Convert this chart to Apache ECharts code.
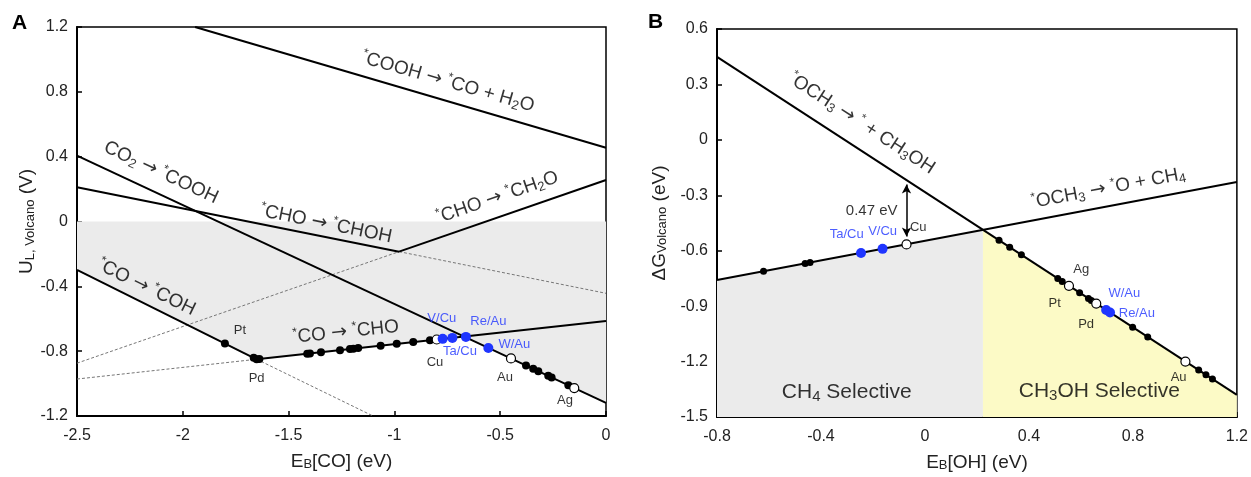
<!DOCTYPE html>
<html><head><meta charset="utf-8">
<script src="https://cdn.jsdelivr.net/npm/echarts@6/dist/echarts.min.js"></script>
<style>html,body{margin:0;padding:0;background:#fff}#c{width:1251px;height:477px}</style>
</head><body><div id="c"></div>
<script>
// ---------- Panel A data (E_B[CO] vs U_L) ----------
const aXTicks = [-2.5, 0];        // axis range
const aYTicks = [-1.2, 1.2];
const aCoohToCo      = [[-1.942, 1.2], [0, 0.455]];
const aCo2ToCooh     = [[-2.5, 0.406], [0, -1.119]];
const aChoToChoh     = [[-2.5, 0.211], [-0.978, -0.186]];
const aChoToChohDash = [[-0.978, -0.186], [0, -0.443]];
const aChoToCh2o     = [[-0.978, -0.186], [0, 0.256]];
const aChoToCh2oDash = [[-2.5, -0.874], [-0.978, -0.186]];
const aCoToCoh       = [[-2.5, -0.299], [-1.651, -0.850]];
const aCoToCohDash   = [[-1.651, -0.850], [-1.101, -1.2]];
const aCoToCho       = [[-1.651, -0.850], [0, -0.614]];
const aCoToChoDash   = [[-2.5, -0.972], [-1.651, -0.850]];
const aVolcano       = [[-2.5, -0.299], [-1.651, -0.850], [-0.671, -0.710], [0, -1.119]];
const aBlack = [[-1.801,-0.753],[-1.665,-0.841],[-1.651,-0.850],[-1.638,-0.848],[-1.412,-0.816],[-1.399,-0.814],[-1.347,-0.807],[-1.257,-0.794],[-1.210,-0.787],[-1.194,-0.785],[-1.171,-0.781],[-1.065,-0.766],[-0.989,-0.755],[-0.911,-0.744],[-0.832,-0.733],[-0.378,-0.888],[-0.344,-0.909],[-0.320,-0.924],[-0.273,-0.952],[-0.257,-0.962],[-0.178,-1.010]];
const aOpen  = [[-0.800,-0.728],[-0.449,-0.845],[-0.150,-1.028]];
const aBlue  = [[-0.772,-0.724],[-0.726,-0.718],[-0.662,-0.712],[-0.556,-0.780]];
const aCurveText = ['{s|*}COOH {a|→} {s|*}CO + H{d|2}O', 'CO{d|2} {a|→} {s|*}COOH', '{s|*}CHO {a|→} {s|*}CHOH', '{s|*}CHO {a|→} {s|*}CH{d|2}O', '{s|*}CO {a|→} {s|*}COH', '{s|*}CO {a|→} {s|*}CHO'];
const aCurvePos  = [[-0.747, 0.861], [-2.103, 0.302], [-1.323, -0.015], [-0.513, 0.148], [-2.171, -0.407], [-1.229, -0.682]];
const aCurveRot  = [-16, -25, -11.5, 19, -26, 6];
const aPtText = ['Pt', 'Pd', 'Cu', 'V/Cu', 'Ta/Cu', 'Re/Au', 'W/Au', 'Au', 'Ag'];
const aPtPos  = [[-1.730,-0.669],[-1.651,-0.967],[-0.808,-0.868],[-0.776,-0.601],[-0.690,-0.803],[-0.556,-0.618],[-0.433,-0.757],[-0.477,-0.964],[-0.194,-1.101]];
const aPtBlue = [false, false, false, true, true, true, true, false, false];

// ---------- Panel B data (E_B[OH] vs dG) ----------
const bOch3ToCh3oh = [[-0.8, 0.449], [1.2, -1.38]];
const bOch3ToOCh4  = [[-0.8, -0.759], [1.2, -0.228]];
const bGrayFill    = [[-0.8, -0.759], [0.223, -0.487]];
const bYellowFill  = [[0.223, -0.487], [1.2, -1.38]];
const bBlack = [[-0.621,-0.711],[-0.461,-0.669],[-0.442,-0.664],[0.285,-0.544],[0.326,-0.581],[0.371,-0.622],[0.511,-0.751],[0.528,-0.766],[0.595,-0.827],[0.629,-0.859],[0.640,-0.869],[0.799,-1.014],[0.857,-1.067],[1.053,-1.246],[1.081,-1.272],[1.106,-1.295]];
const bOpen  = [[-0.071,-0.566],[0.554,-0.790],[0.659,-0.886],[1.002,-1.200]];
const bBlue  = [[-0.246,-0.612],[-0.163,-0.590],[0.697,-0.921],[0.712,-0.934]];
const bArrow = [[-0.071, -0.241], [-0.071, -0.523]];
const bCurveText = ['{s|*}OCH{d|3} {a|→} {s|*} + CH{d|3}OH', '{s|*}OCH{d|3} {a|→} {s|*}O + CH{d|4}'];
const bCurvePos  = [[-0.243, 0.088], [0.706, -0.262]];
const bCurveRot  = [-33, 10.7];
const bRegionText = ['CH{d|4} Selective', 'CH{d|3}OH Selective', '0.47 eV'];
const bRegionPos  = [[-0.301, -1.365], [0.671, -1.362], [-0.205, -0.385]];
const bRegionSize = [21, 21, 15];
const bPtText = ['Cu', 'Ta/Cu', 'V/Cu', 'Ag', 'Pt', 'Pd', 'W/Au', 'Re/Au', 'Au'];
const bPtPos  = [[-0.026,-0.475],[-0.301,-0.511],[-0.163,-0.493],[0.601,-0.703],[0.499,-0.883],[0.620,-0.997],[0.767,-0.829],[0.815,-0.939],[0.976,-1.284]];
const bPtBlue = [false, true, true, false, false, false, true, true, false];

// ---------- styles ----------
const FONT = "'Liberation Sans', Arial, Helvetica, sans-serif";
const BLUE = '#1f35ff';
const richSub = (fs) => ({
  s: { fontSize: Math.round(fs * 0.65), verticalAlign: 'top', lineHeight: Math.round(fs * 0.9), fontFamily: FONT, color: '#000' },
  d: { fontSize: Math.round(fs * 0.7), verticalAlign: 'bottom', lineHeight: Math.round(fs * 0.7), fontFamily: FONT, color: '#000' },
  a: { fontSize: fs, fontFamily: "'DejaVu Sans', sans-serif", color: '#000' }
});

function solid(data, xi) {
  return { type: 'line', xAxisIndex: xi, yAxisIndex: xi, data, symbol: 'none', silent: true, z: 4,
    lineStyle: { color: '#000', width: 2 }, animation: false };
}
function dashed(data, xi) {
  return { type: 'line', xAxisIndex: xi, yAxisIndex: xi, data, symbol: 'none', silent: true, z: 3,
    lineStyle: { color: '#777', width: 1, type: [3, 2] }, animation: false };
}
function fill(data, xi, color, origin) {
  return { type: 'line', xAxisIndex: xi, yAxisIndex: xi, data, symbol: 'none', silent: true, z: 1,
    lineStyle: { width: 0, opacity: 0 }, areaStyle: { color, opacity: 1, origin }, animation: false };
}
function pts(data, xi, size, fillc, border) {
  return { type: 'scatter', xAxisIndex: xi, yAxisIndex: xi, data, symbol: 'circle', symbolSize: size, z: 6,
    itemStyle: { color: fillc, borderColor: border, borderWidth: border ? 1.2 : 0, opacity: 1 }, animation: false };
}
function labels(texts, pos, xi, opts) {
  return { type: 'scatter', xAxisIndex: xi, yAxisIndex: xi, symbolSize: 0, z: 8, silent: true, animation: false,
    data: texts.map((t, i) => {
      const fs = opts.size ? (Array.isArray(opts.size) ? opts.size[i] : opts.size) : 12;
      return { value: pos[i], label: {
        show: true, position: 'inside', formatter: t,
        rotate: opts.rot ? opts.rot[i] : 0,
        fontSize: fs, lineHeight: opts.lh || 18,
        color: opts.blue && opts.blue[i] ? BLUE : '#000',
        fontFamily: FONT, rich: richSub(fs)
      } };
    }) };
}

const axisCommon = {
  axisLine: { show: true, onZero: false, lineStyle: { color: '#000', width: 2 } },
  axisTick: { show: true, inside: true, length: 5, lineStyle: { color: '#000', width: 1.5 } },
  axisLabel: { fontSize: 16, color: '#222', fontFamily: FONT },
  splitLine: { show: false },
  nameLocation: 'middle',
  nameTextStyle: { fontSize: 19, color: '#222', fontFamily: FONT,
    rich: { d: { fontSize: 13, verticalAlign: 'bottom', lineHeight: 12, color: '#222', fontFamily: FONT } } }
};

const option = {
  animation: false,
  backgroundColor: '#fff',
  grid: [
    { left: 77, top: 27, width: 529, height: 389, show: true, borderColor: '#000', borderWidth: 1.5, backgroundColor: 'transparent' },
    { left: 717, top: 29, width: 521, height: 389, show: true, borderColor: '#000', borderWidth: 1.5, backgroundColor: 'transparent' }
  ],
  xAxis: [
    Object.assign({}, axisCommon, { type: 'value', gridIndex: 0, min: aXTicks[0], max: aXTicks[1], interval: 0.5,
      name: 'E{d|B}[CO] (eV)', nameGap: 36, axisLabel: Object.assign({}, axisCommon.axisLabel, { margin: 12 }) }),
    Object.assign({}, axisCommon, { type: 'value', gridIndex: 1, min: -0.8, max: 1.2, interval: 0.4,
      name: 'E{d|B}[OH] (eV)', nameGap: 36, axisLabel: Object.assign({}, axisCommon.axisLabel, { margin: 12 }) })
  ],
  yAxis: [
    Object.assign({}, axisCommon, { type: 'value', gridIndex: 0, min: aYTicks[0], max: aYTicks[1], interval: 0.4,
      name: 'U{d|L, Volcano} (V)', nameGap: 40, axisLabel: Object.assign({}, axisCommon.axisLabel, { margin: 9 }) }),
    Object.assign({}, axisCommon, { type: 'value', gridIndex: 1, min: -1.5, max: 0.6, interval: 0.3,
      name: 'ΔG{d|Volcano} (eV)', nameGap: 48, axisLabel: Object.assign({}, axisCommon.axisLabel, { margin: 9 }) })
  ],
  graphic: [
    { type: 'text', left: 12, top: 13, style: { text: 'A', font: "bold 21px 'Liberation Sans', Arial", fill: '#000' } },
    { type: 'text', left: 648, top: 12, style: { text: 'B', font: "bold 21px 'Liberation Sans', Arial", fill: '#000' } }
  ],
  series: [
    fill(aVolcano, 0, '#ebebeb', 'auto'),
    dashed(aChoToChohDash, 0), dashed(aChoToCh2oDash, 0), dashed(aCoToCohDash, 0), dashed(aCoToChoDash, 0),
    solid(aCoohToCo, 0), solid(aCo2ToCooh, 0), solid(aChoToChoh, 0), solid(aChoToCh2o, 0), solid(aCoToCoh, 0), solid(aCoToCho, 0),
    pts(aBlack, 0, 8, '#000', null), pts(aOpen, 0, 9, '#fff', '#000'), pts(aBlue, 0, 10, BLUE, null),
    labels(aCurveText, aCurvePos, 0, { rot: aCurveRot, size: 19, lh: 22 }),
    labels(aPtText, aPtPos, 0, { size: 13, blue: aPtBlue }),

    fill(bGrayFill, 1, '#ebebeb', 'start'),
    fill(bYellowFill, 1, '#fcfac6', 'start'),
    solid(bOch3ToCh3oh, 1), solid(bOch3ToOCh4, 1),
    pts(bBlack, 1, 7, '#000', null), pts(bOpen, 1, 9, '#fff', '#000'), pts(bBlue, 1, 10, BLUE, null),
    { type: 'line', xAxisIndex: 1, yAxisIndex: 1, data: [], symbol: 'none', animation: false,
      markLine: { silent: true, symbol: ['arrow', 'arrow'], symbolSize: [7, 9], label: { show: false },
        lineStyle: { color: '#000', width: 1.5, type: 'solid' },
        data: [[{ coord: bArrow[0] }, { coord: bArrow[1] }]] } },
    labels(bCurveText, bCurvePos, 1, { rot: bCurveRot, size: 19, lh: 22 }),
    labels(bRegionText, bRegionPos, 1, { size: bRegionSize, lh: 24 }),
    labels(bPtText, bPtPos, 1, { size: 13, blue: bPtBlue })
  ]
};
const chart = echarts.init(document.getElementById('c'), null, { renderer: 'canvas' });
chart.setOption(option);
</script></body></html>
